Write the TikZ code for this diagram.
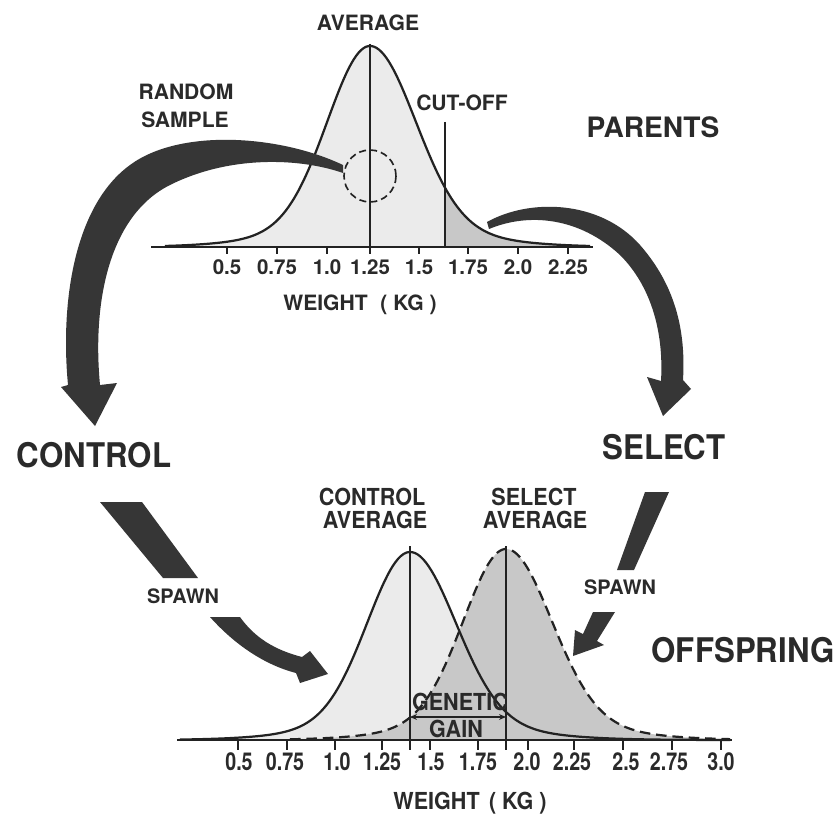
\documentclass[tikz,border=0pt]{standalone}
\usepackage{fontspec}
\setmainfont{TeX Gyre Heros}
\newfontfamily\cfont[FakeStretch=0.92]{TeX Gyre Heros}
\newfontfamily\nfont[FakeStretch=0.8]{TeX Gyre Heros}
\usetikzlibrary{arrows.meta}
\definecolor{ink}{HTML}{222222}
\definecolor{txt}{HTML}{2A2A2A}
\definecolor{arw}{HTML}{363636}
\definecolor{lightfill}{HTML}{EBEBEB}
\definecolor{stipfill}{HTML}{C8C8C8}
\begin{document}
\begin{tikzpicture}[x=0.03cm,y=-0.03cm,
  declare function={fz(\z)=0.9*exp(-0.5*(\z)*(\z))+0.1*exp(-0.125*(\z)*(\z));
                    sg(\u,\m)=(\u<\m)?42:45;
                    pk(\u,\m)=fz((\u-\m)/sg(\u,\m));},
  crv/.style={draw=ink,line width=1.9pt},
  vln/.style={draw=ink,line width=1.2pt},
  axl/.style={draw=ink,line width=2.3pt},
  tck/.style={draw=ink,line width=1.3pt},
  bigarrow/.style={fill=arw,draw=none},
  lbl/.style={text=txt,inner sep=0pt,font=\bfseries\fontsize{18}{18}\selectfont},
  tlab/.style={text=txt,inner sep=0pt,font=\bfseries\fontsize{17.5}{17.5}\selectfont},
  blbl/.style={text=txt,inner sep=0pt,font=\cfont\bfseries\fontsize{20}{20}\selectfont},
  btlab/.style={text=txt,inner sep=0pt,font=\nfont\bfseries\fontsize{21}{21}\selectfont},
  biglbl/.style={text=txt,inner sep=0pt,font=\cfont\bfseries\fontsize{29}{29}\selectfont},
  parlbl/.style={text=txt,inner sep=0pt,font=\bfseries\fontsize{24}{24}\selectfont},
  spawnlbl/.style={text=txt,inner sep=0pt,font=\bfseries\fontsize{17}{17}\selectfont},
  sampcirc/.style={draw=ink,line width=1.4pt,dash pattern=on 6pt off 3.5pt},
  seldash/.style={draw=ink,line width=1.9pt,dash pattern=on 9pt off 5pt}]
\useasboundingbox[fill=white] (0,0) rectangle (834,817);

% ---------- top (parents) chart ----------
\fill[lightfill] (165,247) -- plot[domain=165:590,samples=170] (\x,{247-201*pk(\x,370)}) -- (590,247) -- cycle;
\fill[stipfill] (445,247) -- plot[domain=445:590,samples=80] (\x,{247-201*pk(\x,370)}) -- (590,247) -- cycle;
\draw[crv] plot[domain=165:590,samples=170] (\x,{247-201*pk(\x,370)});
\draw[vln] (370,44) -- (370,254);
\draw[vln] (445,122) -- (445,247);
\draw[axl] (151,247) -- (593,247);
\foreach \t/\l in {227/0.5,277/0.75,327/1.0,370/1.25,419/1.5,468/1.75,518/2.0,568/2.25}{
  \draw[tck] (\t,247) -- (\t,254);
  \node[tlab] (tt\t) at (\t,267) {\l};
}
\draw[sampcirc] (370,176) circle[radius=26];

% ---------- bottom (offspring) chart ----------
\fill[lightfill] (180,740) -- plot[domain=180:730,samples=200] (\x,{740-188*pk(\x,410)}) -- (730,740) -- cycle;
\fill[stipfill] (200,740) -- plot[domain=200:730,samples=200] (\x,{740-191*pk(\x,506)}) -- (730,740) -- cycle;
\draw[crv] plot[domain=180:730,samples=200] (\x,{740-188*pk(\x,410)});
\draw[seldash] plot[domain=290:730,samples=200] (\x,{740-191*pk(\x,506)});
\draw[vln] (410,546) -- (410,750);
\draw[vln] (506,546) -- (506,750);
\draw[axl] (177,740) -- (732,740);
\foreach \t/\p/\l in {238/239/0.5,287/285/0.75,335/337/1.0,382/382/1.25,430/431/1.5,478/478/1.75,528/527/2.0,574/572/2.25,623/626/2.5,672/669/2.75,721/721/3.0}{
  \draw[tck] (\t,740) -- (\t,750);
  \node[btlab] (bt\t) at (\p,762) {\l};
}
\coordinate (gga) at (410,717);
\coordinate (ggb) at (506,717);
\draw[draw=ink,line width=0.9pt,{Stealth[length=6pt,width=5pt]}-{Stealth[length=6pt,width=5pt]}] (gga) -- (ggb);

% ---------- big curved arrows ----------
\path[bigarrow] (343,165) .. controls (280,135) and (180,128) .. (130,165)
   .. controls (75,205) and (60,300) .. (68,385)
   -- (61,387) -- (95,426) -- (117,383) -- (100,385)
   .. controls (92,300) and (110,215) .. (170,185)
   .. controls (230,155) and (300,158) .. (343,173) -- cycle;
\path[bigarrow] (487,222) .. controls (530,198) and (600,200) .. (640,245)
   .. controls (675,285) and (686,330) .. (683,380)
   -- (691,389) -- (663,416) -- (647,377) -- (661,381)
   .. controls (664,330) and (650,285) .. (620,255)
   .. controls (580,218) and (530,212) .. (489,229) -- cycle;

% ---------- spawn arrows ----------
\path[bigarrow] (100,502) -- (142,502) -- (198,578) -- (163,578) -- cycle;
\path[bigarrow] (210,617) .. controls (235,645) and (265,665) .. (296,673)
   -- (300,683) -- (328,674) -- (310,651) -- (302,657)
   .. controls (275,650) and (255,638) .. (240,617) -- cycle;
\path[bigarrow] (645,492) -- (669,492) -- (634,570) -- (617,570) -- cycle;
\path[bigarrow] (593,612) -- (615,612) -- (597,641) -- (604,645) -- (573,656) -- (575,630) -- (583,634) -- cycle;

% ---------- labels ----------
\node[lbl] (avg) at (368,23) {AVERAGE};
\node[lbl] (rnd) at (186,92) {RANDOM};
\node[lbl] (smp) at (185,120) {SAMPLE};
\node[lbl] (cut) at (462,103) {CUT-OFF};
\node[parlbl] (par) at (653,127) {PARENTS};
\node[lbl] (wt1) at (360,305) {WEIGHT\hspace{0.6em}( KG )};
\node[biglbl] (ctl) at (94,455) {CONTROL};
\node[biglbl] (sel) at (664,447) {SELECT};
\node[biglbl] (off) at (743,650) {OFFSPRING};
\node[blbl] (ca1) at (372,497) {CONTROL};
\node[blbl] (ca2) at (375,520) {AVERAGE};
\node[blbl] (sa1) at (534,497) {SELECT};
\node[blbl] (sa2) at (535,520) {AVERAGE};
\node[spawnlbl] (sp1) at (183,596) {SPAWN};
\node[spawnlbl] (sp2) at (620,587) {SPAWN};
\node[blbl] (gen) at (460,702) {GENETIC};
\node[blbl] (gain) at (456,729) {GAIN};
\node[blbl] (wt2) at (470,803) {WEIGHT\hspace{0.4em}( KG )};
\end{tikzpicture}
\end{document}
